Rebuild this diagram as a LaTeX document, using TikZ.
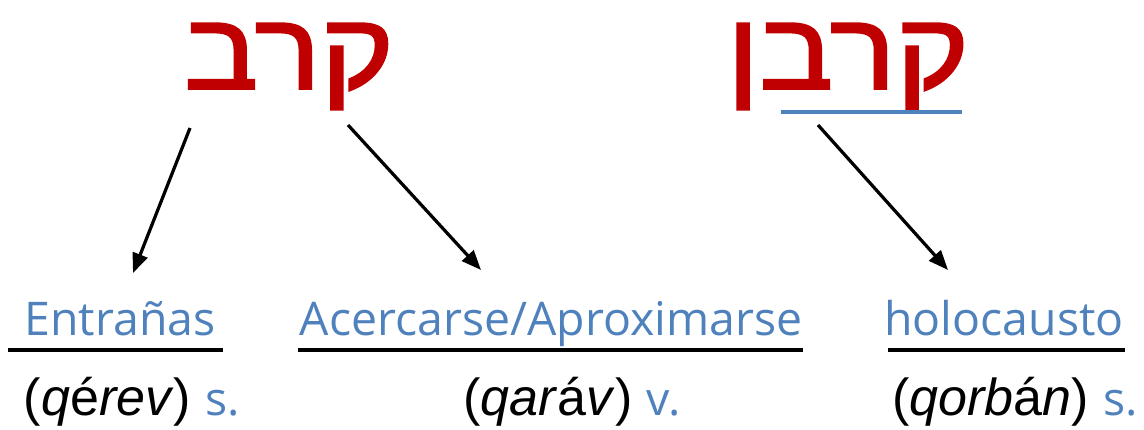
\documentclass[tikz,border=0pt]{standalone}
\usepackage{fontspec}
\setmainfont{Liberation Sans}
\newfontfamily\hebfont[Script=Hebrew,FakeBold=1.8]{Liberation Sans}
\newfontfamily\handfont{Open Sans}
\TeXXeTstate=1
\usetikzlibrary{arrows.meta}
\definecolor{rootred}{RGB}{192,0,0}
\definecolor{glossblue}{RGB}{79,129,189}
\tikzset{
  root/.style = {anchor=base, text=rootred, inner sep=0pt,
    font=\hebfont\fontsize{78}{78}\selectfont},
  gloss/.style = {anchor=base, text=glossblue, inner sep=0pt,
    font=\handfont\fontsize{33}{33}\selectfont},
  translit/.style = {anchor=base, inner sep=0pt, font=\fontsize{37}{37}\selectfont},
  glossline/.style = {line width=2.2pt},
  link/.style = {line width=2.3pt, -{Triangle[length=14pt,width=11pt]}}
}
\newcommand{\pos}[1]{{\handfont\color{glossblue}\fontsize{33}{33}\selectfont #1}}

\begin{document}
\begin{tikzpicture}[x=0.025cm, y=-0.025cm]
  \useasboundingbox (0,0) rectangle (1144,429);
  % roots
  \node [root] (qrv) at (289,89) {\scalebox{1.13}[1]{\beginR קרב\endR}};
  \node [root] (qrbn) at (848,89) {\scalebox{1.13}[1]{\beginR קרבן\endR}};
  \draw [glossline, glossblue] (781,112) -- (962,112);
  % glosses
  \node [gloss] (entr) at (120,335) {Entrañas};
  \node [gloss] (acerc) at (551,335) {Acercarse/Aproximarse};
  \node [gloss] (holoc) at (1004,335) {holocausto};
  \draw [glossline] (8,350) -- (223,350);
  \draw [glossline] (298,350) -- (803,350);
  \draw [glossline] (888,350) -- (1125,350);
  % readings
  \node [translit] (qerev) at (132,415) {(\textit{q}é\textit{rev}) \pos{s.}};
  \node [translit] (qarav) at (572,415) {(\textit{qar}á\textit{v}) \pos{v.}};
  \node [translit] (qorban) at (1015,415) {(\textit{qorb}á\textit{n}) \pos{s.}};
  % arrows
  \coordinate (qrv-a) at (190,128);
  \coordinate (qrv-b) at (348,125);
  \coordinate (qrbn-a) at (818,125);
  \coordinate (entr-t) at (133,273);
  \coordinate (acerc-t) at (481,270);
  \coordinate (holoc-t) at (948,270);
  \draw [link] (qrv-a) -- (entr-t);
  \draw [link] (qrv-b) -- (acerc-t);
  \draw [link] (qrbn-a) -- (holoc-t);
\end{tikzpicture}
\end{document}
